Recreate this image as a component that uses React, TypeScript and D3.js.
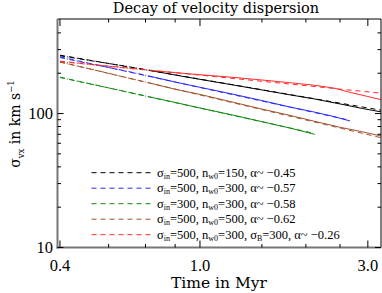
import React from "react";
import * as d3 from "d3";

const title = "Decay of velocity dispersion";
const xMajorTicks = [0.4, 1.0, 3.0];
const xMinorTicks = [0.55, 0.7, 0.85, 1.5, 2.0, 2.5];
const yMajorTicks = [10, 100];
const yMinorTicks = [20, 30, 40, 50, 60, 70, 80, 90, 200, 300, 400];

const seriesColors = ["#000000", "#2a2aff", "#138a13", "#a0522d", "#ff2a2a"];
const legendIn = ["500", "500", "300", "500", "500"];
const legendNw = ["150", "300", "300", "500", "300"];
const legendSigmaB = ["", "", "", "", "300"];
const legendAlpha = ["−0.45", "−0.57", "−0.58", "−0.62", "−0.26"];

// simulation curves: time (Myr) and sigma (km/s)
const blackT = [0.4, 0.5, 0.6, 0.72, 0.85, 1.0, 1.25, 1.5, 1.8, 2.1, 2.5, 2.9, 3.27];
const blackS = [270, 246, 228, 210, 194, 180, 163, 150, 138, 129, 118, 109, 103];
const blueT = [0.4, 0.5, 0.6, 0.72, 0.85, 1.0, 1.25, 1.5, 1.8, 2.1, 2.4, 2.67];
const blueS = [262, 232, 211, 190, 172, 157, 139, 125, 112, 103, 95, 88];
const greenT = [0.4, 0.5, 0.6, 0.72, 0.85, 1.0, 1.25, 1.5, 1.8, 2.12];
const greenS = [186, 164, 148, 133, 121, 110, 97, 87, 78, 70];
const brownT = [0.4, 0.5, 0.6, 0.72, 0.85, 1.0, 1.25, 1.5, 1.8, 2.1, 2.5, 2.9, 3.27];
const brownS = [242, 212, 189, 169, 152, 139, 121, 108, 97, 88, 79, 73, 68];
const redT = [0.4, 0.5, 0.6, 0.72, 0.85, 1.0, 1.25, 1.5, 1.8, 2.1, 2.4, 2.7, 3.0, 3.27];
const redS = [244, 231, 220, 210, 202, 195, 186, 178, 170, 163, 155, 143, 134, 127];

// power-law fits (start and end)
const fitT = [[0.4, 3.27], [0.4, 2.67], [0.4, 2.12], [0.4, 3.27], [0.4, 3.27]];
const fitS = [[273, 106], [265, 89], [187, 71], [243, 66], [246, 142]];

const curvesT = [blackT, blueT, greenT, brownT, redT];
const curvesS = [blackS, blueS, greenS, brownS, redS];

export default function App() {
  const width = 382,
    height = 293;
  const left = 57.5,
    right = 381,
    top = 19,
    bottom = 247.5;

  const xScale = d3.scaleLog().domain([0.3936, 3.27]).range([left, right]);
  const yScale = d3.scaleLog().domain([10, 508]).range([bottom, top]);

  const line = d3
    .line<[number, number]>()
    .x((d) => xScale(d[0]))
    .y((d) => yScale(d[1]));

  const serif = "'DejaVu Serif', serif";
  const numFont = "'Liberation Serif', serif";
  const splitT = 0.72;

  return (
    <div style={{ position: "absolute", left: 0, top: 0 }}>
      <svg width={width} height={height} style={{ display: "block" }}>
        <rect x={0} y={0} width={width} height={height} fill="#fff" />
        {/* title */}
        <text x={216} y={13} fontFamily={serif} fontSize={14.5} textAnchor="middle">
          {title}
        </text>

        {/* curves */}
        <g clipPath="url(#plotclip)">
          <defs>
            <clipPath id="plotclip">
              <rect x={left} y={top} width={right - left} height={bottom - top} />
            </clipPath>
          </defs>
          {curvesT.map((ts, i) => {
            const pts: [number, number][] = ts.map((t, j) => [t, curvesS[i][j]]);
            const early = pts.filter((p) => p[0] <= splitT);
            const late = pts.filter((p) => p[0] >= splitT);
            return (
              <g key={"c" + i} fill="none" stroke={seriesColors[i]} strokeWidth={1}>
                <path d={line(early) || ""} strokeDasharray="5,2,1,2" />
                <path d={line(late) || ""} />
              </g>
            );
          })}
          {fitT.map((ts, i) => {
            const pts: [number, number][] = ts.map((t, j) => [t, fitS[i][j]]);
            return (
              <path
                key={"f" + i}
                d={line(pts) || ""}
                fill="none"
                stroke={seriesColors[i]}
                strokeWidth={1}
                strokeDasharray="5,4"
              />
            );
          })}
        </g>

        {/* axes frame */}
        <line x1={left} x2={right} y1={top} y2={top} stroke="#000" strokeWidth={1} />
        <line x1={right} x2={right} y1={top} y2={bottom} stroke="#000" strokeWidth={1} />
        <line x1={left} x2={left} y1={top} y2={bottom + 1} stroke="#777" strokeWidth={2} />
        <line x1={left - 1} x2={right} y1={bottom} y2={bottom} stroke="#777" strokeWidth={2} />

        {/* x ticks */}
        {xMajorTicks.concat(xMinorTicks).map((t, i) => {
          const len = i < xMajorTicks.length ? 7 : 3.5;
          const x = xScale(t);
          return (
            <g key={"xt" + t} stroke="#000" strokeWidth={1}>
              <line x1={x} x2={x} y1={bottom} y2={bottom - len} />
              <line x1={x} x2={x} y1={top} y2={top + len} />
            </g>
          );
        })}
        {xMajorTicks.map((t) => (
          <text
            key={"xl" + t}
            x={xScale(t)}
            y={271}
            fontFamily={numFont}
            fontSize={16.5}
            textAnchor="middle"
          >
            {t.toFixed(1)}
          </text>
        ))}

        {/* y ticks */}
        {yMajorTicks.concat(yMinorTicks).map((v, i) => {
          const len = i < yMajorTicks.length ? 6 : 3.5;
          const y = yScale(v);
          return (
            <g key={"yt" + v} stroke="#000" strokeWidth={1}>
              <line x1={left} x2={left + len} y1={y} y2={y} />
              <line x1={right} x2={right - len} y1={y} y2={y} />
            </g>
          );
        })}
        {yMajorTicks.map((v) => (
          <text
            key={"yl" + v}
            x={53}
            y={yScale(v) + 5}
            fontFamily={numFont}
            fontSize={16.5}
            textAnchor="end"
          >
            {v}
          </text>
        ))}

        {/* axis titles */}
        <text x={219} y={288} fontFamily={serif} fontSize={15.5} textAnchor="middle">
          Time in Myr
        </text>
        <text
          transform="translate(20,124) rotate(-90)"
          fontFamily={serif}
          fontSize={14}
          textAnchor="middle"
        >
          σ<tspan fontSize={8.5} dy={4}>vx</tspan>
          <tspan dy={-4}> in km s</tspan>
          <tspan fontSize={8.5} dy={-6}>−1</tspan>
        </text>

        {/* legend */}
        {seriesColors.map((c, i) => {
          const y = 172.7 + i * 15.5;
          return (
            <g key={"lg" + i}>
              <line
                x1={91.5}
                x2={151.5}
                y1={y}
                y2={y}
                stroke={c}
                strokeWidth={1}
                strokeDasharray="5,4"
              />
              <text x={157} y={y + 4} fontFamily={numFont} fontSize={12.5}>
                σ<tspan fontSize={8} dy={2}>in</tspan>
                <tspan dy={-2}>={legendIn[i]}, n</tspan>
                <tspan fontSize={8} dy={2}>w0</tspan>
                <tspan dy={-2}>={legendNw[i]}, </tspan>
                {legendSigmaB[i] ? (
                  <>
                    <tspan>σ</tspan>
                    <tspan fontSize={8} dy={2}>B</tspan>
                    <tspan dy={-2}>={legendSigmaB[i]}, </tspan>
                  </>
                ) : null}
                <tspan>α~ {legendAlpha[i]}</tspan>
              </text>
            </g>
          );
        })}
      </svg>
    </div>
  );
}
